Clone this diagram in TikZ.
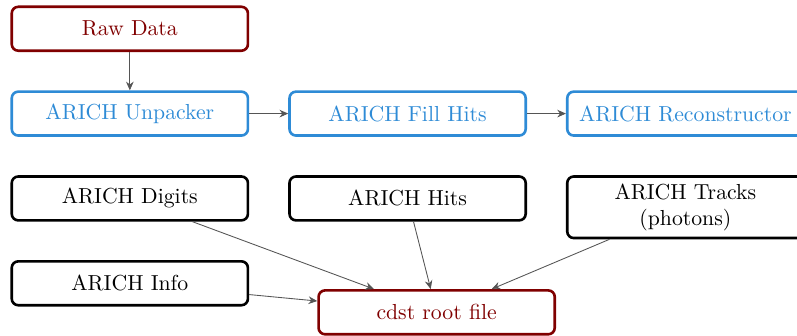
\documentclass[tikz,border=0pt]{standalone}
\usepackage{tikz}
\usetikzlibrary{arrows.meta,positioning,calc}
\definecolor{rawred}{HTML}{800000}
\definecolor{procblue}{HTML}{2E8BD6}
\definecolor{flowgray}{HTML}{555555}

\begin{document}
\begin{tikzpicture}[node distance=0.62cm,
  box/.style={draw, rounded corners=3pt, line width=1.2pt, minimum width=3.82cm, minimum height=0.71cm, align=center},
  rawbox/.style={box, color=rawred},
  procbox/.style={box, color=procblue},
  databox/.style={box, color=black},
  flow/.style={-{Stealth[length=4pt,width=3.5pt]}, flowgray, thin}]
  \useasboundingbox (-2.10,0.465) rectangle ++(12.89,-5.43);

  % input and unpacking chain
  \node[rawbox] (raw) {Raw Data};
  \node[procbox, below=of raw] (unpack) {ARICH Unpacker};
  \node[procbox, right=0.63cm of unpack] (fill) {ARICH Fill Hits};
  \node[procbox, right=0.63cm of fill] (recon) {ARICH Reconstructor};

  % data objects
  \node[databox, below=of unpack] (digits) {ARICH Digits};
  \node[databox, below=of fill] (hits) {ARICH Hits};
  \node[databox, below=of recon] (tracks) {ARICH Tracks\\(photons)};
  \node[databox, below=of digits] (info) {ARICH Info};
  \node[rawbox, right=1.1cm of info, yshift=-0.47cm] (cdst) {cdst root file};

  \draw[flow] (raw) -- (unpack);
  \draw[flow] (unpack) -- (fill);
  \draw[flow] (fill) -- (recon);
  \draw[flow] (digits) -- (cdst);
  \draw[flow] (hits) -- (cdst);
  \draw[flow] (tracks) -- (cdst);
  \draw[flow] (info) -- (cdst);
\end{tikzpicture}
\end{document}
